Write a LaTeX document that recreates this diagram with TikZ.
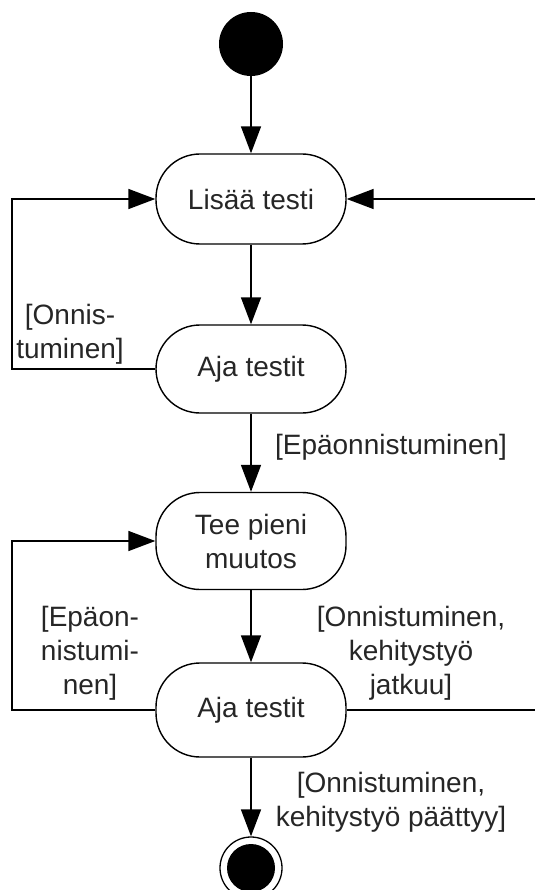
\documentclass[tikz,border=0pt]{standalone}
\usepackage{fontspec}
\setmainfont{Liberation Sans}
\usetikzlibrary{arrows.meta}
\begin{document}
\begin{tikzpicture}[x=1pt,y=-1pt,
  every node/.style={font=\fontsize{28}{34}\selectfont, text=black!85},
  activity/.style={draw, line width=1.4pt, rounded corners=44pt, minimum width=190pt,
    inner sep=0pt, align=center},
  guard/.style={align=center, inner sep=0pt},
  flow/.style={line width=1.6pt, -{Triangle[length=27pt,width=20pt]}},
  plain/.style={line width=1.6pt}]
\useasboundingbox (0,0) rectangle (535,890);

% start and end states
\node[circle, fill=black, minimum size=64pt, inner sep=0pt] (start) at (251,44) {};
\node[circle, draw, line width=1.3pt, minimum size=62pt, inner sep=0pt] (final) at (251,868) {};
\fill[black] (final.center) circle (24pt);

% activities
\node[activity, minimum height=90pt] (add) at (251,199) {Lisää testi};
\node[activity, minimum height=88pt] (run1) at (251,369) {Aja testit};
\node[activity, minimum height=97pt] (change) at (251,541) {Tee pieni\\muutos};
\node[activity, minimum height=94pt] (run2) at (251,710) {Aja testit};

% loose ends at the picture border
\coordinate (inR) at (535,199);
\coordinate (outR) at (535,710);
\coordinate (l1a) at (12,369);
\coordinate (l1b) at (12,199);
\coordinate (l2a) at (12,710);
\coordinate (l2b) at (12,541);

% main flow
\draw[flow] (start) -- (add);
\draw[flow] (add) -- (run1);
\draw[flow] (run1) -- (change);
\draw[flow] (change) -- (run2);
\draw[flow] (run2) -- (final);

% loops
\draw[flow] (run1.west) -- (l1a) -- (l1b) -- (add.west);
\draw[flow] (run2.west) -- (l2a) -- (l2b) -- (change.west);
\draw[flow] (inR) -- (add.east);
\draw[plain] (run2.east) -- (outR);

% guards
\node[guard] (g1) at (70,334) {[Onnis-\\tuminen]};
\node[guard] (g2) at (391,447) {[Epäonnistuminen]};
\node[guard] (g3) at (90,653) {[Epäon-\\nistumi-\\nen]};
\node[guard] (g4) at (411,653) {[Onnistuminen,\\kehitystyö\\jatkuu]};
\node[guard] (g5) at (391,802) {[Onnistuminen,\\kehitystyö päättyy]};
\end{tikzpicture}
\end{document}
